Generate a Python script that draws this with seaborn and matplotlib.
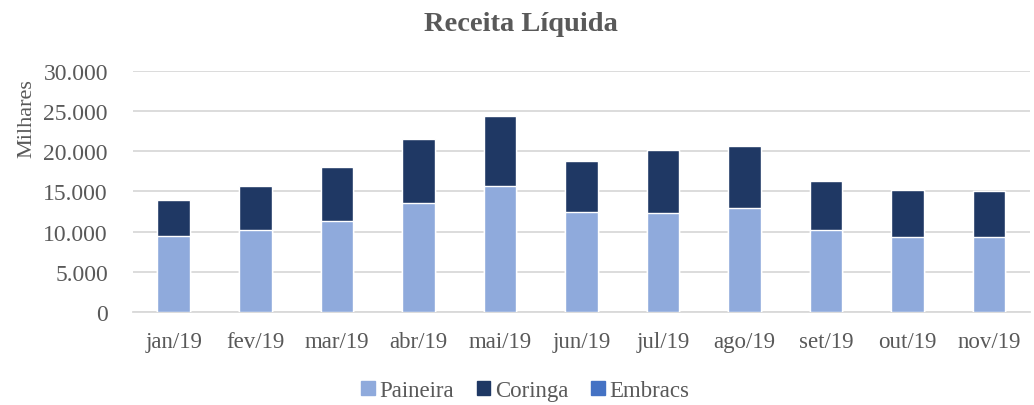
import numpy as np
import pandas as pd
import matplotlib
matplotlib.use('Agg')
import matplotlib.pyplot as plt
import seaborn as sns
from matplotlib.patches import Patch

# Data (R$ milhares)
meses = ['jan/19', 'fev/19', 'mar/19', 'abr/19', 'mai/19', 'jun/19',
         'jul/19', 'ago/19', 'set/19', 'out/19', 'nov/19']
paineira = [9470, 10255, 11376, 13619, 15737, 12460, 12373, 12909, 10217, 9345, 9295]
coringa = [4485, 5395, 6604, 7850, 8598, 6355, 7812, 7687, 6106, 5806, 5732]
embracs = [0, 0, 0, 0, 0, 0, 0, 0, 0, 0, 0]

cor_paineira = '#8FAADC'
cor_coringa = '#1F3864'
cor_embracs = '#4472C4'
cinza = '#595959'
grade = '#D9D9D9'

sns.set_style('white')
plt.rcParams['font.family'] = ['Liberation Serif', 'DejaVu Serif']

df = pd.DataFrame({'mes': meses, 'Paineira': paineira,
                   'Coringa': coringa, 'Embracs': embracs})
df['nivel2'] = df['Paineira'] + df['Coringa']
df['nivel3'] = df['nivel2'] + df['Embracs']

fig = plt.figure(figsize=(10.34, 4.06), dpi=100)
ax = fig.add_axes([0.1286, 0.229, 0.8674, 0.594])

# stacked bars drawn as layers from the top down
sns.barplot(data=df, x='mes', y='nivel3', color=cor_embracs, width=0.4,
            saturation=1, ax=ax, zorder=3)
sns.barplot(data=df, x='mes', y='nivel2', color=cor_coringa, width=0.4,
            saturation=1, ax=ax, zorder=3)
sns.barplot(data=df, x='mes', y='Paineira', color=cor_paineira, width=0.4,
            saturation=1, ax=ax, zorder=3)

ax.set_ylim(0, 30000)
ax.set_xlim(-0.5, len(meses) - 0.5)
ax.set_yticks(np.arange(0, 30001, 5000))
ax.set_yticklabels([f'{v:,}'.replace(',', '.') for v in range(0, 30001, 5000)])
ax.yaxis.grid(True, color=grade, linewidth=1.3, zorder=0)
ax.set_axisbelow(True)

for s in ['top', 'right', 'left']:
    ax.spines[s].set_visible(False)
ax.spines['bottom'].set_color(grade)
ax.spines['bottom'].set_linewidth(1.3)

ax.set_xticks(np.arange(len(meses)))
ax.set_xticklabels(meses)
ax.set_xticks(np.arange(len(meses) + 1) - 0.5, minor=True)
ax.tick_params(axis='x', which='major', length=0, pad=14, labelsize=16.5, labelcolor=cinza)
ax.tick_params(axis='x', which='minor', length=6, width=1.3, color=grade)
ax.tick_params(axis='y', length=0, pad=18, labelsize=17, labelcolor=cinza)

ax.set_xlabel('')
ax.set_ylabel('Milhares', fontsize=16, color=cinza, fontfamily='Liberation Serif')
ax.yaxis.set_label_coords(-0.108, 0.805)
fig.text(0.504, 0.94, 'Receita Líquida', ha='center', va='center',
         fontsize=20.5, fontweight='bold', color=cinza)

handles = [Patch(color=cor_paineira, label='Paineira'),
           Patch(color=cor_coringa, label='Coringa'),
           Patch(color=cor_embracs, label='Embracs')]
leg = fig.legend(handles=handles, loc='center', bbox_to_anchor=(0.508, 0.035), ncol=3,
                 frameon=False, fontsize=16.5, labelcolor=cinza,
                 handlelength=0.6, handleheight=0.6, handletextpad=0.2, columnspacing=1.0)
for t in leg.get_texts():
    t.set_fontfamily('Liberation Serif')

fig.savefig('out.png', dpi=100)
